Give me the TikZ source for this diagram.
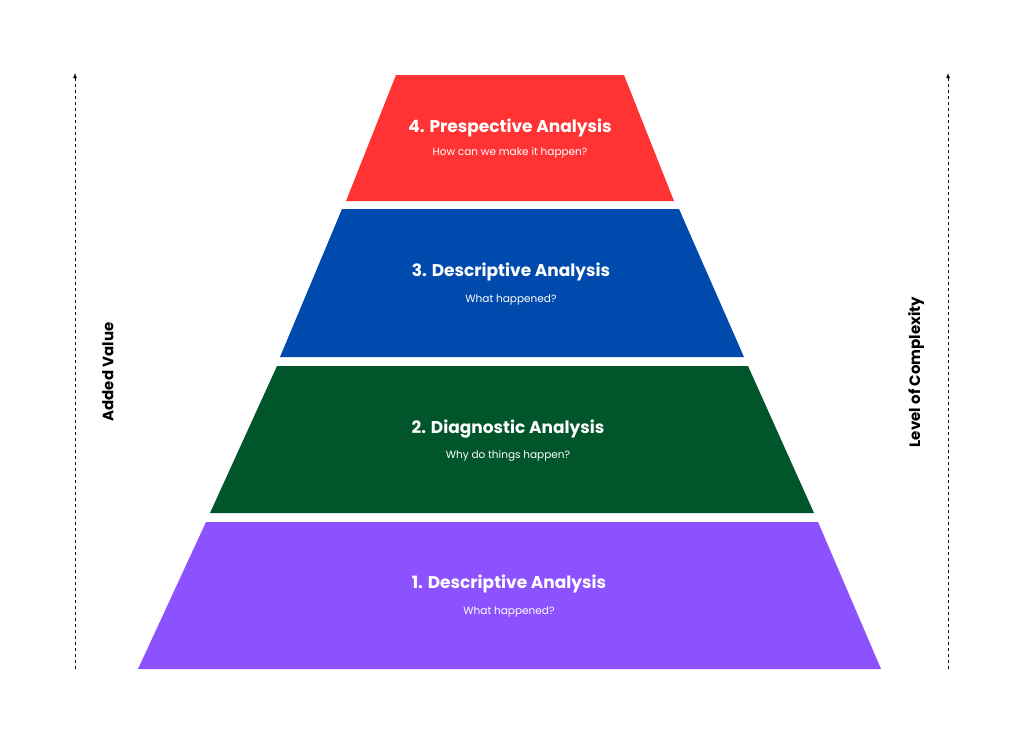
\documentclass[tikz,border=0pt]{standalone}
\usepackage{fontspec}
\setmainfont{Poppins}
\definecolor{levred}{HTML}{FF3333}
\definecolor{levblue}{HTML}{004AAD}
\definecolor{levgreen}{HTML}{00552B}
\definecolor{levpurple}{HTML}{8C52FF}
\begin{document}
\begin{tikzpicture}[
    x=1pt, y=-1pt,
    level/.style={draw=none},
    ttl/.style={text=white, font=\bfseries\fontsize{17}{20}\selectfont, anchor=center},
    sub/.style={text=white, font=\fontsize{10.5}{13}\selectfont, anchor=center},
    axis/.style={thick, dashed, -latex},
    axlabel/.style={rotate=90, font=\bfseries\fontsize{15}{18}\selectfont, anchor=center}
  ]
  \useasboundingbox[fill=white] (0,0) rectangle (1024,745);
  % pyramid levels
  \fill[levred]    (396,75)  -- (624,75)  -- (674,201) -- (346,201) -- cycle;
  \fill[levblue]   (342,209) -- (679,209) -- (744,357) -- (280,357) -- cycle;
  \fill[levgreen]  (277,366) -- (748,366) -- (814,513) -- (210,513) -- cycle;
  \fill[levpurple] (206,522) -- (818,522) -- (881,669) -- (138,669) -- cycle;
  % texts
  \node[ttl] (t4) at (510,128) {4. Prespective Analysis};
  \node[sub] (s4) at (510,153) {How can we make it happen?};
  \node[ttl] (t3) at (511,272) {3. Descriptive Analysis};
  \node[sub] (s3) at (511,300) {What happened?};
  \node[ttl] (t2) at (508,429) {2. Diagnostic Analysis};
  \node[sub] (s2) at (508,456) {Why do things happen?};
  \node[ttl] (t1) at (509,584) {1. Descriptive Analysis};
  \node[sub] (s1) at (509,612) {What happened?};
  % axes
  \coordinate (la) at (75,669);
  \coordinate (lb) at (75,73);
  \coordinate (ra) at (948,669);
  \coordinate (rb) at (948,73);
  \draw[axis] (la) -- (lb);
  \draw[axis] (ra) -- (rb);
  \node[axlabel] (lv) at (108,372) {Added Value};
  \node[axlabel] (lc) at (916,372) {Level of Complexity};
\end{tikzpicture}
\end{document}
